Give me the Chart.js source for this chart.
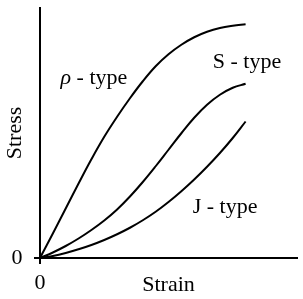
<!DOCTYPE html>
<html lang="en">
<head>
  <meta charset="UTF-8">
  <title>Stress-strain curve types</title>
  <script src="https://cdn.jsdelivr.net/npm/chart.js"></script>
  <style>
    html, body { margin: 0; padding: 0; background: #fff; }
    #wrap { width: 303px; height: 299px; position: relative; }
  </style>
</head>
<body>
<div id="wrap"><canvas id="curves"></canvas></div>

<script>
// strain values shared by all three curves
const strain = [0, 0.5, 1, 1.5, 2, 2.5, 3, 3.5, 4, 4.5, 5, 5.5, 6, 6.5, 7, 7.5, 8];

// stress, one list per curve
const rhoType = [0, 0.98, 1.98, 2.98, 3.95, 4.85, 5.65, 6.39, 7.07, 7.67, 8.15, 8.53, 8.83, 9.05, 9.2, 9.29, 9.35];
const sType   = [0, 0.22, 0.48, 0.78, 1.12, 1.5, 1.94, 2.46, 3.04, 3.67, 4.33, 4.99, 5.61, 6.13, 6.53, 6.81, 6.97];
const jType   = [0, 0.08, 0.2, 0.35, 0.52, 0.72, 0.95, 1.21, 1.51, 1.85, 2.24, 2.67, 3.14, 3.65, 4.2, 4.8, 5.46];

// only the origin gets a tick on each axis
const xTicks = [0];
const yTicks = [0];

// curve names, drawn next to each curve (anchor in data units, left/baseline)
const curveNames = [
  { prefix: 'ρ', text: ' - type', x: 0.8,  y: 6.96 },
  { prefix: '',  text: 'S - type', x: 6.72, y: 7.6 },
  { prefix: '',  text: 'J - type', x: 5.94, y: 1.8 }
];

const serif = "'Liberation Serif', 'Times New Roman', serif";
const fontSize = 22;

function toPoints(ys) {
  return strain.map((x, i) => ({ x: x, y: ys[i] }));
}

const curveStyle = {
  borderColor: '#000',
  borderWidth: 2,
  pointRadius: 0,
  showLine: true,
  fill: false,
  tension: 0.4
};

const nameLabels = {
  id: 'nameLabels',
  afterDatasetsDraw(chart) {
    const { ctx, scales: { x, y } } = chart;
    ctx.save();
    ctx.fillStyle = '#000';
    ctx.textBaseline = 'alphabetic';
    ctx.textAlign = 'left';
    curveNames.forEach(n => {
      let px = x.getPixelForValue(n.x);
      const py = y.getPixelForValue(n.y);
      if (n.prefix) {
        ctx.font = 'italic ' + fontSize + 'px ' + serif;
        ctx.fillText(n.prefix, px, py);
        px += ctx.measureText(n.prefix).width;
      }
      ctx.font = fontSize + 'px ' + serif;
      ctx.fillText(n.text, px, py);
    });
    ctx.restore();
  }
};

new Chart(document.getElementById('curves'), {
  type: 'scatter',
  data: {
    datasets: [
      { label: 'ρ - type', data: toPoints(rhoType), ...curveStyle },
      { label: 'S - type', data: toPoints(sType), ...curveStyle },
      { label: 'J - type', data: toPoints(jType), ...curveStyle }
    ]
  },
  options: {
    responsive: true,
    maintainAspectRatio: false,
    animation: false,
    layout: { padding: { top: 8, right: 6, bottom: 0, left: 11.5 } },
    plugins: { legend: { display: false }, tooltip: { enabled: false } },
    scales: {
      x: {
        type: 'linear', min: 0, max: 10,
        afterBuildTicks: s => { s.ticks = xTicks.map(v => ({ value: v })); },
        grid: { drawOnChartArea: false, drawTicks: true, tickLength: 6, color: '#000', lineWidth: 2 },
        border: { display: true, color: '#000', width: 2 },
        ticks: { color: '#000', padding: 5.8, font: { family: serif, size: fontSize } },
        title: {
          display: true, text: 'Strain', color: '#000',
          font: { family: serif, size: fontSize },
          padding: { top: -30.2, bottom: 0.8 }
        }
      },
      y: {
        type: 'linear', min: 0, max: 10,
        afterBuildTicks: s => { s.ticks = yTicks.map(v => ({ value: v })); },
        grid: { drawOnChartArea: false, drawTicks: true, tickLength: 6, color: '#000', lineWidth: 2 },
        border: { display: true, color: '#000', width: 2 },
        ticks: { color: '#000', padding: 0, crossAlign: 'far', font: { family: serif, size: fontSize, lineHeight: 0.6 } },
        title: {
          display: true, text: 'Stress', color: '#000',
          font: { family: serif, size: fontSize },
          padding: { top: -9.2, bottom: -5.7 }
        }
      }
    }
  },
  plugins: [nameLabels]
});
</script>
</body>
</html>
